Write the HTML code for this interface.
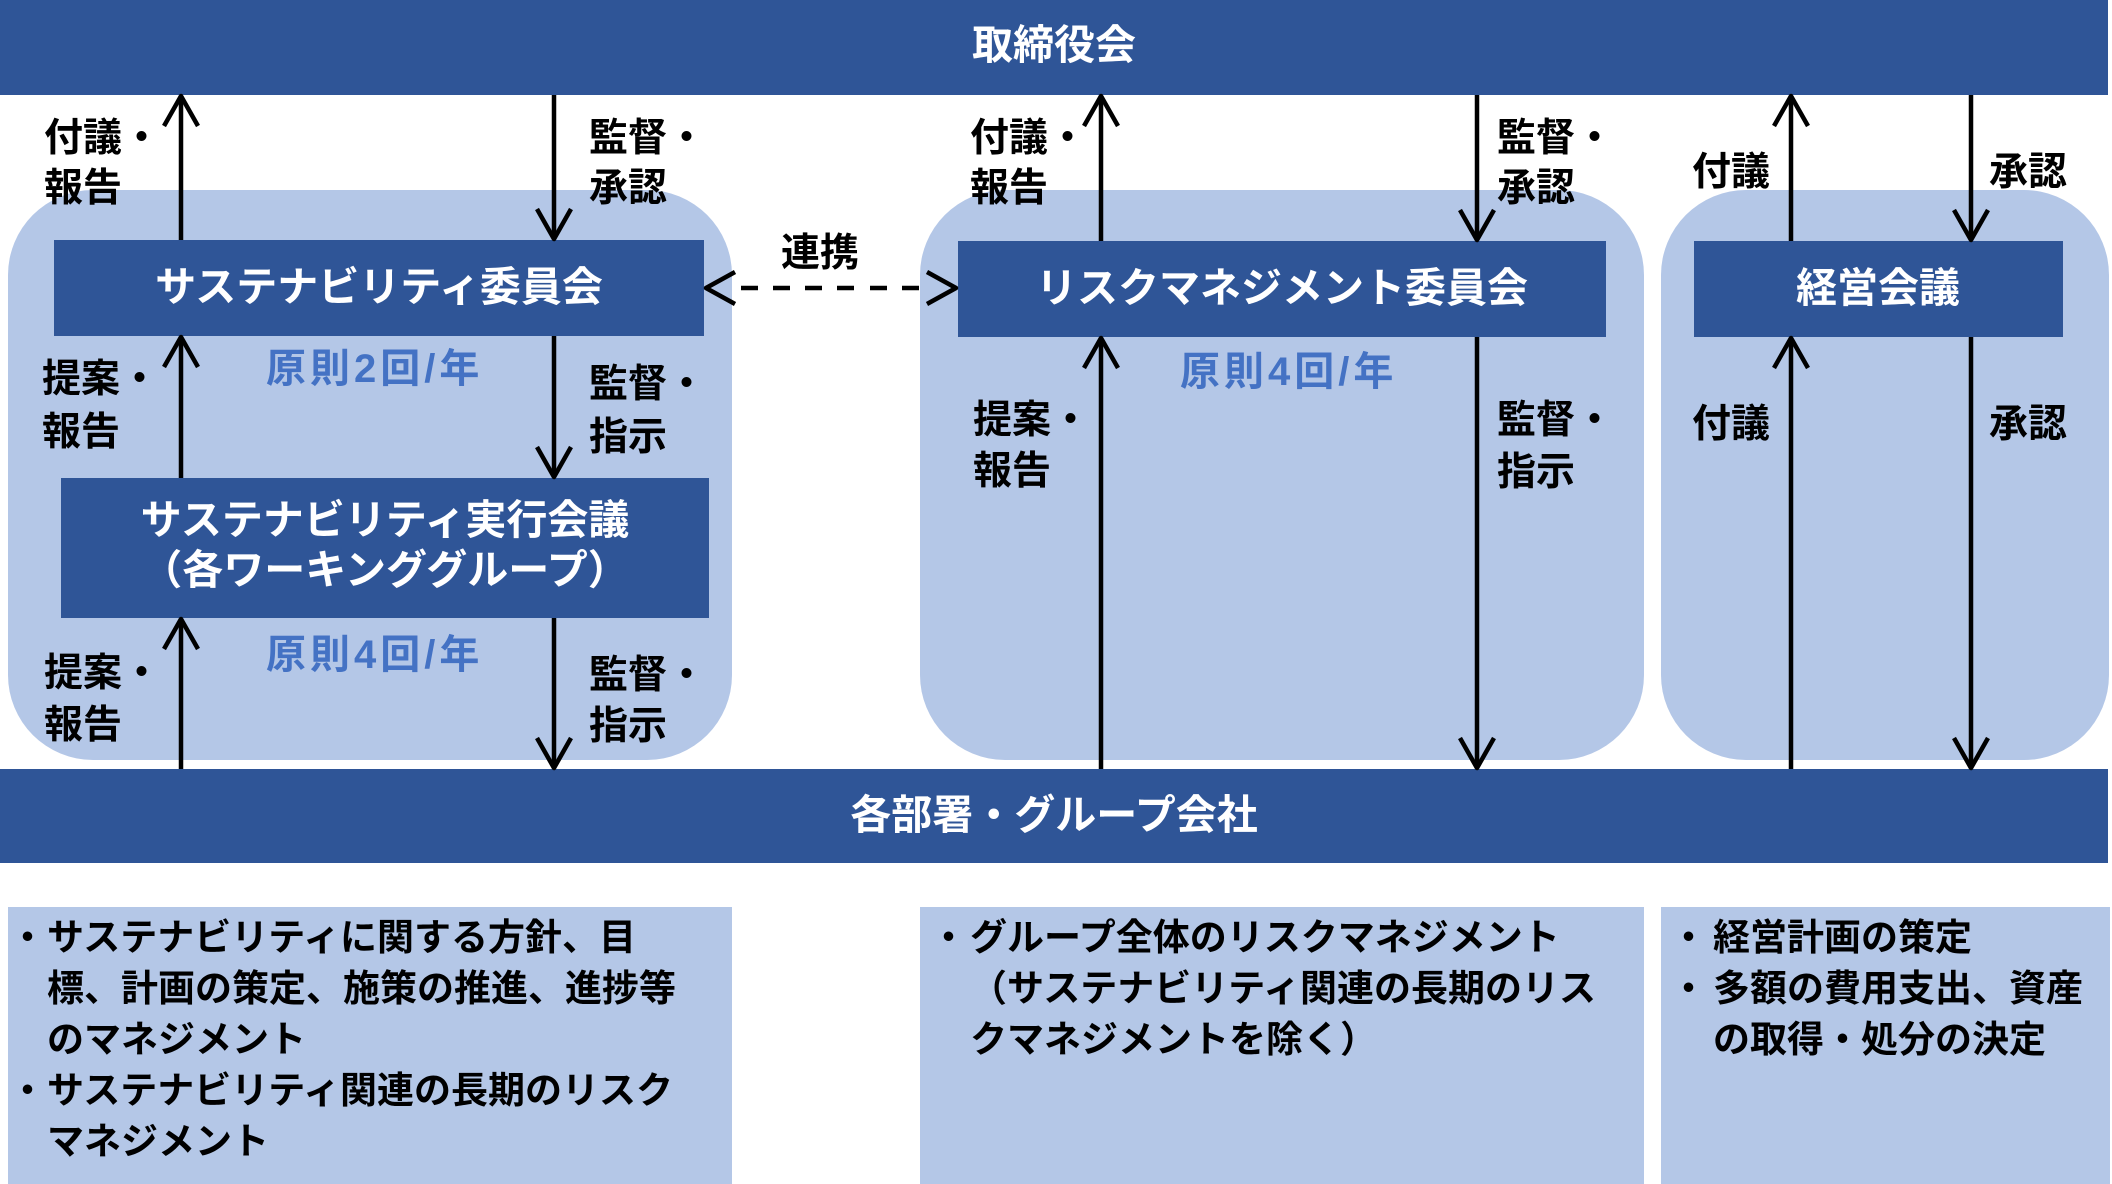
<!DOCTYPE html>
<html>
<head>
<meta charset="utf-8">
<style>
html,body{margin:0;padding:0;background:#fff;}
svg{display:block;}
text{font-family:"Liberation Sans","Noto Sans CJK JP",sans-serif;font-weight:bold;}
.w{fill:#fff;font-size:41px;}
.lb{fill:#000;font-size:39px;}
.bl{fill:#4472C4;font-size:40px;letter-spacing:4px;}
.bt{fill:#000;font-size:37px;}
</style>
</head>
<body>
<svg width="2112" height="1184" viewBox="0 0 2112 1184" xmlns="http://www.w3.org/2000/svg">
  <!-- rounded panels -->
  <rect x="8" y="190" width="724" height="570" rx="85" ry="85" fill="#B4C7E7"/>
  <rect x="920" y="190" width="724" height="570" rx="85" ry="85" fill="#B4C7E7"/>
  <rect x="1661" y="190" width="448" height="570" rx="85" ry="85" fill="#B4C7E7"/>

  <!-- bottom text boxes -->
  <rect x="8" y="907" width="724" height="277" fill="#B4C7E7"/>
  <rect x="920" y="907" width="724" height="277" fill="#B4C7E7"/>
  <rect x="1661" y="907" width="449" height="277" fill="#B4C7E7"/>

  <!-- bars -->
  <rect x="0" y="0" width="2108" height="95" fill="#2F5597"/>
  <rect x="0" y="769" width="2108" height="94" fill="#2F5597"/>

  <!-- boxes -->
  <rect x="54" y="240" width="650" height="96" fill="#2F5597"/>
  <rect x="61" y="478" width="648" height="140" fill="#2F5597"/>
  <rect x="958" y="241" width="648" height="96" fill="#2F5597"/>
  <rect x="1694" y="241" width="369" height="96" fill="#2F5597"/>

  <!-- arrows -->
  <g stroke="#000" stroke-width="4.5" fill="none" stroke-linejoin="round">
    <!-- left column -->
    <path d="M181 240 V97"/><path d="M164 126 L181 96 L198 126"/>
    <path d="M554 95 V238"/><path d="M537 209 L554 239 L571 209"/>
    <path d="M181 478 V338"/><path d="M164 367 L181 337 L198 367"/>
    <path d="M554 336 V476"/><path d="M537 447 L554 477 L571 447"/>
    <path d="M181 769 V620"/><path d="M164 649 L181 619 L198 649"/>
    <path d="M554 618 V767"/><path d="M537 738 L554 768 L571 738"/>
    <!-- risk -->
    <path d="M1101 241 V97"/><path d="M1084 126 L1101 96 L1118 126"/>
    <path d="M1477 95 V239"/><path d="M1460 210 L1477 240 L1494 210"/>
    <path d="M1101 769 V339"/><path d="M1084 368 L1101 338 L1118 368"/>
    <path d="M1477 337 V767"/><path d="M1460 738 L1477 768 L1494 738"/>
    <!-- right -->
    <path d="M1791 241 V97"/><path d="M1774 126 L1791 96 L1808 126"/>
    <path d="M1971 95 V239"/><path d="M1954 210 L1971 240 L1988 210"/>
    <path d="M1791 769 V339"/><path d="M1774 368 L1791 338 L1808 368"/>
    <path d="M1971 337 V767"/><path d="M1954 738 L1971 768 L1988 738"/>
    <!-- dashed link -->
    <path d="M735 272 L706 288 L735 304"/>
    <path d="M927 272 L956 288 L927 304"/>
    <path d="M741 288 H758 M773 288 H790 M805 288 H822 M837 288 H854 M870 288 H887 M902 288 H919"/>
  </g>

  <!-- bar & box titles -->
  <text class="w" x="1054" y="59" text-anchor="middle">取締役会</text>
  <text class="w" x="1054" y="829" text-anchor="middle">各部署・グループ会社</text>
  <text class="w" x="379" y="301" text-anchor="middle">サステナビリティ委員会</text>
  <text class="w" x="385" y="534" text-anchor="middle">サステナビリティ実行会議</text>
  <text class="w" x="385" y="584" text-anchor="middle">（各ワーキンググループ）</text>
  <text class="w" x="1282" y="302" text-anchor="middle">リスクマネジメント委員会</text>
  <text class="w" x="1878" y="302" text-anchor="middle">経営会議</text>

  <!-- labels left column -->
  <text class="lb" x="44" y="151">付議・</text>
  <text class="lb" x="44" y="201">報告</text>
  <text class="lb" x="589" y="151">監督・</text>
  <text class="lb" x="589" y="201">承認</text>
  <text class="lb" x="42" y="392">提案・</text>
  <text class="lb" x="42" y="445">報告</text>
  <text class="lb" x="589" y="397">監督・</text>
  <text class="lb" x="589" y="450">指示</text>
  <text class="lb" x="44" y="686">提案・</text>
  <text class="lb" x="44" y="738">報告</text>
  <text class="lb" x="589" y="688">監督・</text>
  <text class="lb" x="589" y="739">指示</text>
  <text class="lb" x="781" y="266">連携</text>
  <text class="bl" x="266" y="382">原則2回/年</text>
  <text class="bl" x="266" y="668">原則4回/年</text>

  <!-- risk column -->
  <text class="lb" x="970" y="151">付議・</text>
  <text class="lb" x="970" y="201">報告</text>
  <text class="lb" x="1497" y="151">監督・</text>
  <text class="lb" x="1497" y="201">承認</text>
  <text class="bl" x="1180" y="385">原則4回/年</text>
  <text class="lb" x="973" y="433">提案・</text>
  <text class="lb" x="973" y="484">報告</text>
  <text class="lb" x="1497" y="433">監督・</text>
  <text class="lb" x="1497" y="485">指示</text>

  <!-- right column -->
  <text class="lb" x="1692" y="185">付議</text>
  <text class="lb" x="1989" y="185">承認</text>
  <text class="lb" x="1692" y="437">付議</text>
  <text class="lb" x="1989" y="437">承認</text>

  <!-- bottom text: left -->
  <text class="bt" x="9" y="950">・</text>
  <text class="bt" x="47" y="950">サステナビリティに関する方針、目</text>
  <text class="bt" x="47" y="1001">標、計画の策定、施策の推進、進捗等</text>
  <text class="bt" x="47" y="1052">のマネジメント</text>
  <text class="bt" x="9" y="1103">・</text>
  <text class="bt" x="47" y="1103">サステナビリティ関連の長期のリスク</text>
  <text class="bt" x="47" y="1154">マネジメント</text>

  <!-- bottom text: middle -->
  <text class="bt" x="930" y="950">・</text>
  <text class="bt" x="970" y="950">グループ全体のリスクマネジメント</text>
  <text class="bt" x="970" y="1001">（サステナビリティ関連の長期のリス</text>
  <text class="bt" x="970" y="1052">クマネジメントを除く）</text>

  <!-- bottom text: right -->
  <text class="bt" x="1670" y="950">・</text>
  <text class="bt" x="1713" y="950">経営計画の策定</text>
  <text class="bt" x="1670" y="1001">・</text>
  <text class="bt" x="1713" y="1001">多額の費用支出、資産</text>
  <text class="bt" x="1713" y="1052">の取得・処分の決定</text>
</svg>
</body>
</html>
